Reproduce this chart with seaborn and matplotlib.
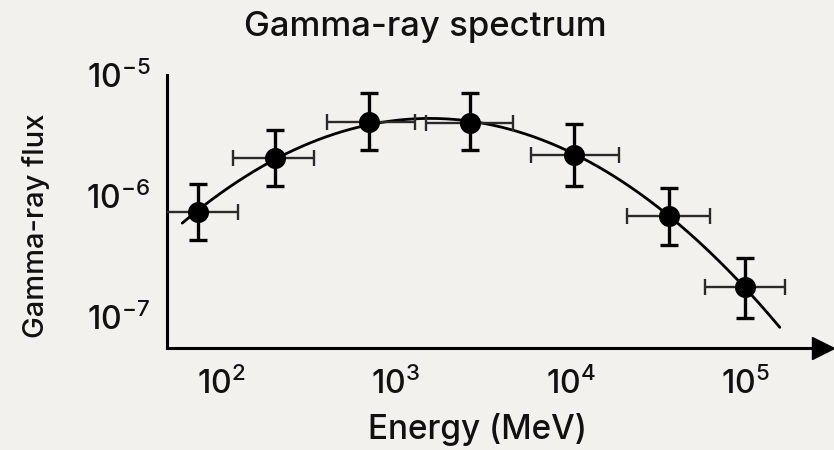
import numpy as np
import pandas as pd
import matplotlib
matplotlib.use("Agg")
import matplotlib.pyplot as plt
import seaborn as sns

# ---- data ----
energy = [74, 204, 703, 2663, 10500, 36700, 100000]          # MeV
energy_lo = [40, 117, 404, 1490, 5960, 21200, 59000]          # left end of x error bar
energy_hi = [125, 340, 1290, 4690, 19000, 63000, 170000]      # right end of x error bar
flux = [7.4e-7, 2.06e-6, 4.1e-6, 4.0e-6, 2.18e-6, 6.8e-7, 1.77e-7]
flux_lo = [4.3e-7, 1.21e-6, 2.4e-6, 2.4e-6, 1.2e-6, 3.9e-7, 9.9e-8]
flux_hi = [1.26e-6, 3.5e-6, 7.1e-6, 7.1e-6, 3.9e-6, 1.17e-6, 3.1e-7]
curve_range = [60, 158000]                                    # MeV extent of model curve
xticks = [1e2, 1e3, 1e4, 1e5]
yticks = [1e-7, 1e-6, 1e-5]

title = "Gamma-ray spectrum"
xlabel = "Energy (MeV)"
ylabel = "Gamma-ray flux"

bg = "#f3f1ee"
FONT = "Inter"
WEIGHT = "medium"

sns.set_theme(style="white")
plt.rcParams["font.family"] = [FONT, "DejaVu Sans"]
plt.rcParams["font.weight"] = WEIGHT
plt.rcParams["mathtext.fontset"] = "custom"
plt.rcParams["mathtext.rm"] = f"{FONT}:medium"
plt.rcParams["mathtext.it"] = f"{FONT}:medium"
plt.rcParams["mathtext.bf"] = f"{FONT}:bold"
plt.rcParams["mathtext.default"] = "regular"

df = pd.DataFrame({"E": energy, "F": flux})

fig = plt.figure(figsize=(8.34, 4.5), dpi=100, facecolor=bg)
ax = fig.add_axes([167 / 834, 1 - 348 / 450, (823 - 167) / 834, (348 - 75) / 450])
ax.set_facecolor(bg)
ax.set_xscale("log")
ax.set_yscale("log")

# model curve: log-parabola fitted to the points
lx = np.log10(energy)
ly = np.log10(flux)
coef = np.polyfit(lx, ly, 2)
grid = np.linspace(np.log10(curve_range[0]), np.log10(curve_range[1]), 300)
curve = pd.DataFrame({"E": 10 ** grid, "F": 10 ** np.polyval(coef, grid)})
sns.lineplot(data=curve, x="E", y="F", ax=ax, color="black", lw=2.0, zorder=2)

E = np.array(energy)
F = np.array(flux)
xerr = [E - np.array(energy_lo), np.array(energy_hi) - E]
yerr = [F - np.array(flux_lo), np.array(flux_hi) - F]
ax.errorbar(E, F, xerr=xerr, fmt="none", ecolor="#2a2a2a", elinewidth=1.7,
            capsize=6, capthick=1.7, zorder=3)
ax.errorbar(E, F, yerr=yerr, fmt="none", ecolor="black", elinewidth=2.4,
            capsize=6.5, capthick=2.4, zorder=3)
sns.scatterplot(data=df, x="E", y="F", ax=ax, color="black", s=230,
                edgecolor="black", linewidth=0, zorder=4)

ax.set_xlim(10 ** 1.691, 10 ** 5.446)
ax.set_ylim(10 ** -7.256, 1e-5)
ax.set_xticks(xticks)
ax.set_yticks(yticks)
ax.minorticks_off()
ax.tick_params(axis="both", direction="in", length=7, width=1.8, colors="black",
               labelsize=23, labelcolor="#111111")
ax.tick_params(axis="x", pad=14)
ax.tick_params(axis="y", pad=12)

for s in ["top", "right"]:
    ax.spines[s].set_visible(False)
for s in ["left", "bottom"]:
    ax.spines[s].set_linewidth(2.2)
    ax.spines[s].set_color("black")
ax.plot(1, 0, ">", color="black", markersize=16, transform=ax.transAxes,
        clip_on=False, zorder=5)

ax.set_xlabel("")
ax.set_ylabel("")
fig.text(477 / 834, 1 - 430 / 450, xlabel, ha="center", va="center",
         fontsize=24, color="#111111", fontweight=WEIGHT)
fig.text(36 / 834, 1 - 226 / 450, ylabel, ha="center", va="center",
         rotation=90, fontsize=21, color="#111111", fontweight=WEIGHT)
fig.text(425 / 834, 1 - 27 / 450, title, ha="center", va="center",
         fontsize=25, color="#111111", fontweight=WEIGHT)

fig.savefig("out.png", dpi=100, facecolor=bg)
